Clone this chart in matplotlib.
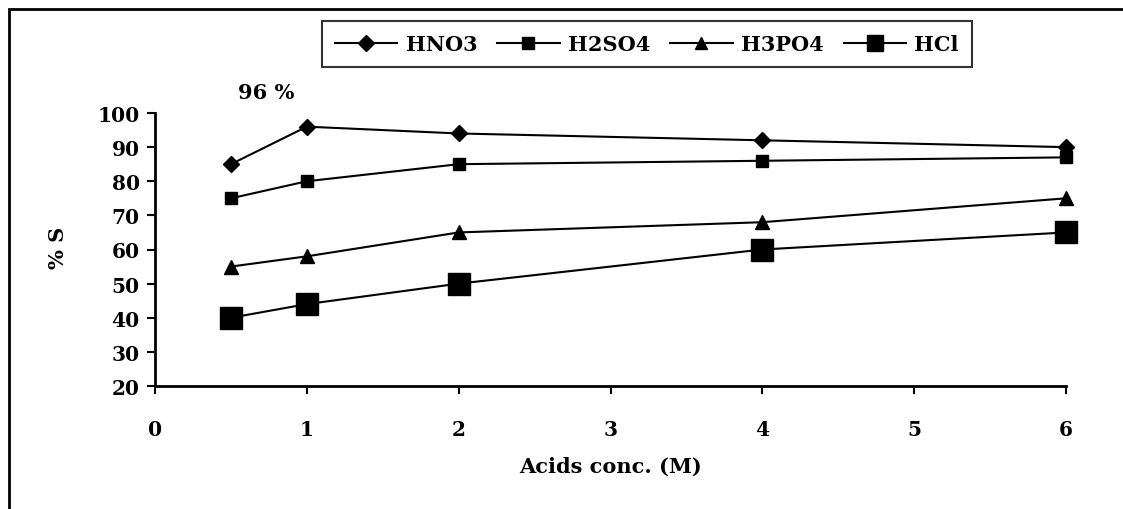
import matplotlib
matplotlib.use("Agg")
import matplotlib.pyplot as plt
from matplotlib.patches import Rectangle
from matplotlib.lines import Line2D

# data
conc = [0.5, 1, 2, 4, 6]
hno3 = [85, 96, 94, 92, 90]
h2so4 = [75, 80, 85, 86, 87]
h3po4 = [55, 58, 65, 68, 75]
hcl = [40, 44, 50, 60, 65]

series_names = ["HNO3", "H2SO4", "H3PO4", "HCl"]
series_vals = [hno3, h2so4, h3po4, hcl]
markers = ["D", "s", "^", "s"]
msizes = [8.5, 9, 10.5, 15.5]
leg_msizes = [8, 8, 9, 11]

# wide bold serif, close to the stretched Times of the source
plt.rcParams["font.family"] = ["DejaVu Serif"]
plt.rcParams["font.weight"] = "bold"

fig = plt.figure(figsize=(11.23, 5.10), dpi=100)
ax = fig.add_axes([155 / 1123, 1 - 387 / 510, (1066 - 155) / 1123, (387 - 114) / 510])

handles = []
for name, vals, m, ms, lms in zip(series_names, series_vals, markers, msizes, leg_msizes):
    ax.plot(conc, vals, color="black", lw=1.5, marker=m, markersize=ms, clip_on=False)
    handles.append(Line2D([], [], color="black", lw=1.5, marker=m, markersize=lms))

ax.set_xlim(0, 6)
ax.set_ylim(20, 100)
ax.set_xticks(range(0, 7))
ax.set_yticks(range(20, 101, 10))
ax.spines["top"].set_visible(False)
ax.spines["right"].set_visible(False)
ax.spines["left"].set_linewidth(2)
ax.spines["bottom"].set_linewidth(2)
ax.tick_params(axis="x", direction="out", length=6, width=1.5, pad=18, labelsize=14.5)
ax.tick_params(axis="y", direction="out", length=6, width=1.5, pad=5, labelsize=14.5)
for lbl in ax.get_xticklabels() + ax.get_yticklabels():
    lbl.set_fontweight("bold")

ax.set_xlabel("Acids conc. (M)", fontsize=15, fontweight="bold", labelpad=12)
fig.text(58 / 1123, 1 - 248 / 510, "% S", rotation=90, ha="center", va="center",
         fontsize=15, fontweight="bold")

ax.text(0.73, 106.2, "96 %", ha="center", va="center", fontsize=15,
        fontweight="bold", clip_on=False)

leg = fig.legend(handles, series_names, ncol=4, loc="upper left",
                 bbox_to_anchor=(322 / 1123, 1 - 22 / 510), frameon=True,
                 fancybox=False, edgecolor="black", handlelength=3.0,
                 columnspacing=0.95, handletextpad=0.4, borderpad=0.62,
                 borderaxespad=0, prop={"size": 15, "weight": "bold"})
leg.get_frame().set_linewidth(1.5)

# outer frame, cut off at the right and bottom like the source
fig.patches.append(Rectangle((9 / 1123, -0.2), 1.2, 1 - 10 / 510 + 0.2,
                             transform=fig.transFigure, fill=False,
                             edgecolor="black", lw=2))

fig.savefig("out.png", dpi=100)
